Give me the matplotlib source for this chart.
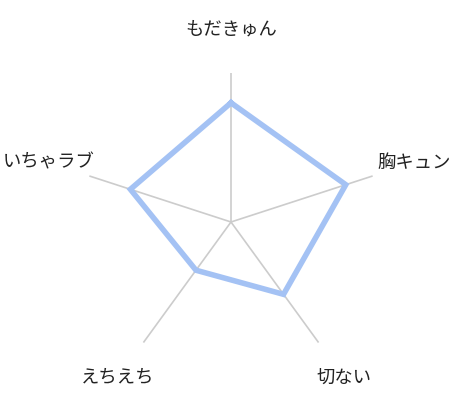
import numpy as np
import matplotlib
matplotlib.use("Agg")
import matplotlib.pyplot as plt

plt.rcParams['font.family'] = ['Noto Sans CJK JP', 'DejaVu Sans']

# data
categories = ['もだきゅん', '胸キュン', '切ない', 'えちえち', 'いちゃラブ']
values = [80, 81, 60, 40, 71]
rmax = 100

n = len(categories)
angles = np.linspace(0, 2 * np.pi, n, endpoint=False)

fig = plt.figure(figsize=(4.58, 4.0), dpi=100)
ax = fig.add_axes([0.179, 0.0725, 0.6507, 0.745], projection='polar')
ax.set_theta_offset(np.pi / 2)
ax.set_theta_direction(-1)
ax.set_ylim(0, rmax)
ax.grid(False)
ax.spines['polar'].set_visible(False)
ax.set_xticks([])
ax.set_yticks([])
ax.patch.set_alpha(0)

# spokes
for a in angles:
    ax.plot([a, a], [0, rmax], color='#cccccc', lw=1.2, zorder=1)

# data polygon
th = np.append(angles, angles[0])
vv = np.append(values, values[0])
ax.plot(th, vv, color='#a4c2f4', lw=4, solid_joinstyle='miter', zorder=2)

# labels
for a, lab in zip(angles, categories):
    ax.text(a, rmax * 1.29, lab, ha='center', va='center', fontsize=13.2,
            color='#222222', clip_on=False)

fig.savefig('out.png', dpi=100)
